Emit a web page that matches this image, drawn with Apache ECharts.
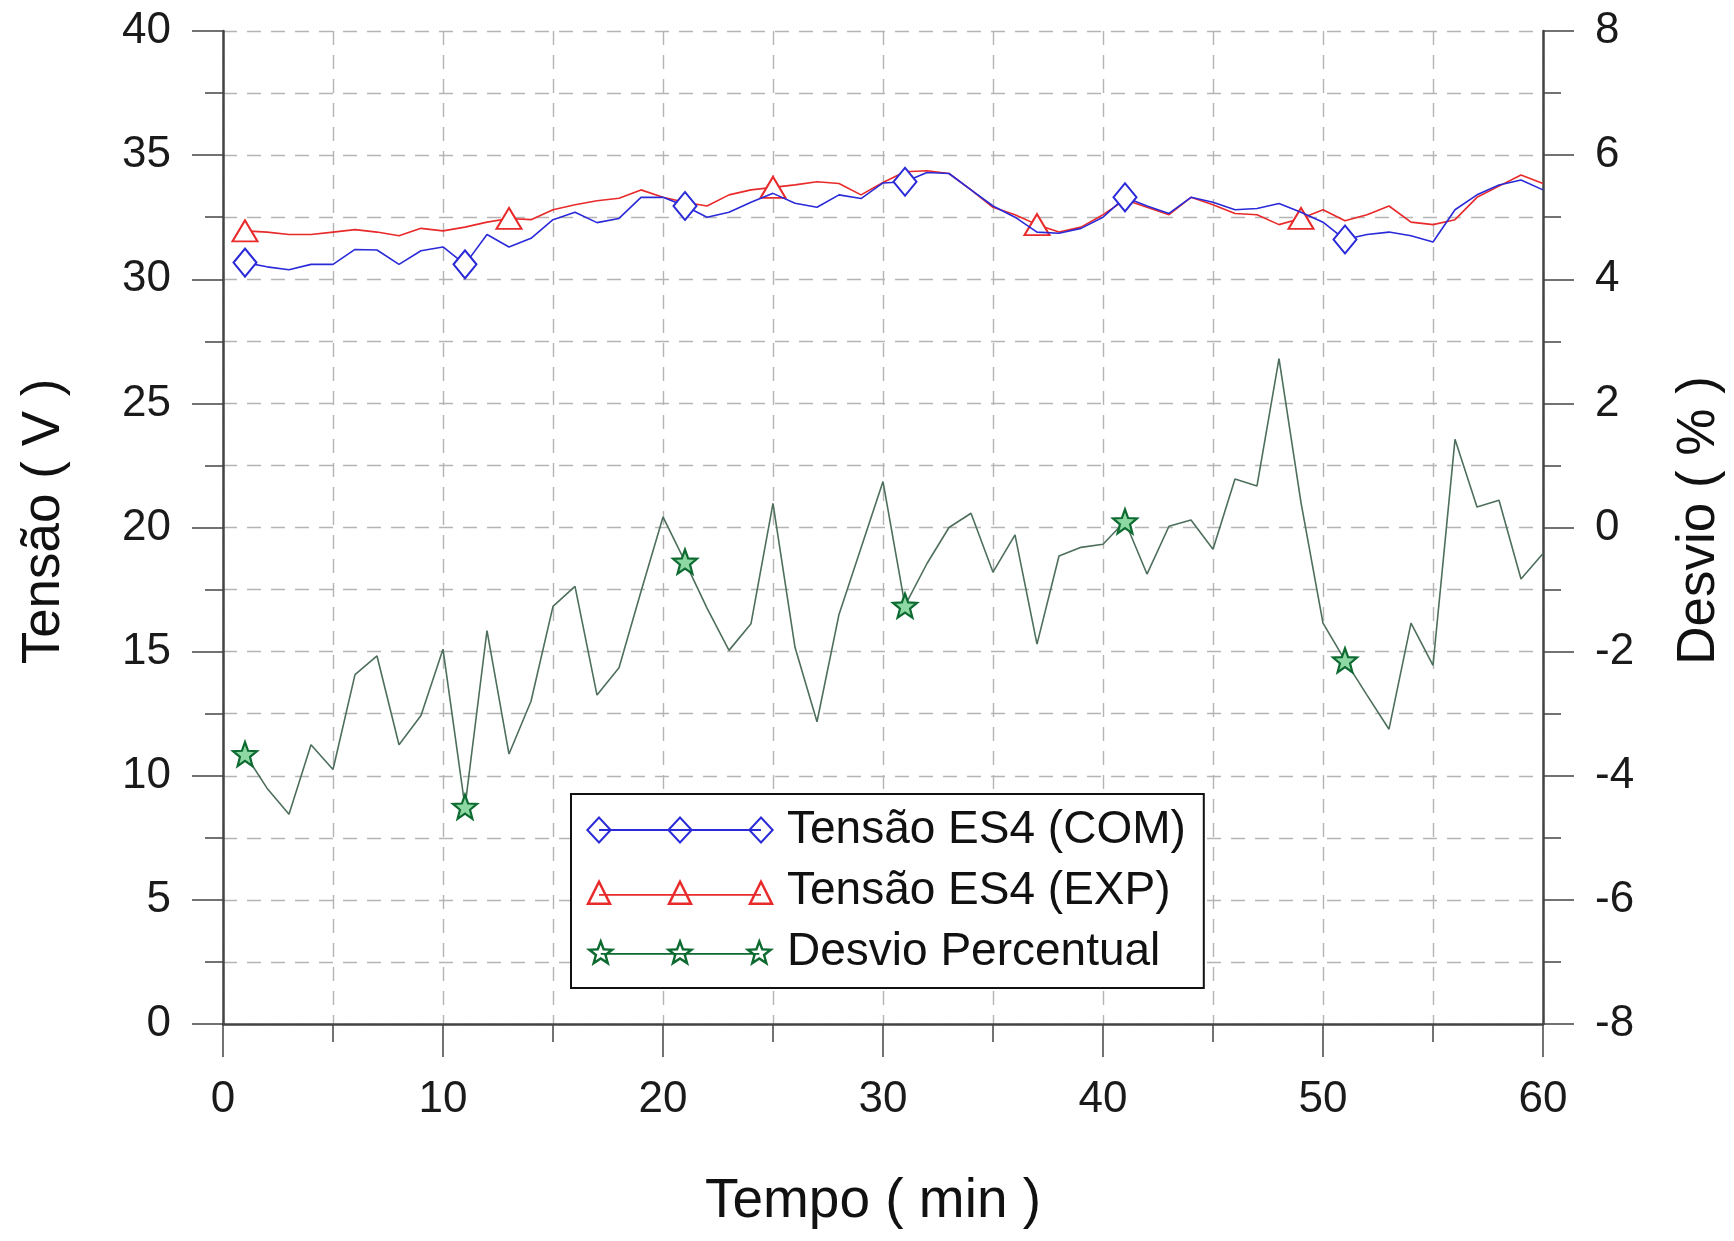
<!DOCTYPE html>
<html>
<head>
<meta charset="utf-8">
<script src="https://cdn.jsdelivr.net/npm/echarts@6/dist/echarts.min.js"></script>
<style>
html,body{margin:0;padding:0;background:#fff;}
#chart{width:1734px;height:1241px;}
</style>
</head>
<body>
<div id="chart"></div>
<script>
// ---- data ----
const minutes = [1,2,3,4,5,6,7,8,9,10,11,12,13,14,15,16,17,18,19,20,
  21,22,23,24,25,26,27,28,29,30,31,32,33,34,35,36,37,38,39,40,
  41,42,43,44,45,46,47,48,49,50,51,52,53,54,55,56,57,58,59,60];
const tensaoCOM = [30.67,30.5,30.38,30.6,30.6,31.2,31.18,30.6,31.15,31.3,
  30.6,31.8,31.3,31.65,32.4,32.7,32.28,32.45,33.3,33.3,
  32.95,32.5,32.7,33.1,33.46,33.06,32.9,33.4,33.25,33.88,
  33.93,34.3,34.26,33.6,32.95,32.5,31.9,31.85,32.05,32.5,
  33.3,32.95,32.65,33.3,33.1,32.8,32.85,33.05,32.7,32.3,
  31.6,31.8,31.9,31.75,31.5,32.8,33.4,33.8,34.0,33.6];
const tensaoEXP = [31.95,31.9,31.8,31.8,31.9,32.0,31.9,31.75,32.05,31.95,
  32.1,32.3,32.45,32.4,32.8,33.0,33.16,33.26,33.6,33.3,
  33.1,32.95,33.4,33.6,33.7,33.8,33.93,33.86,33.4,33.9,
  34.33,34.37,34.26,33.6,32.9,32.6,32.2,31.9,32.1,32.6,
  33.2,32.9,32.6,33.3,33.0,32.65,32.6,32.2,32.45,32.8,
  32.36,32.6,32.95,32.3,32.2,32.4,33.3,33.75,34.2,33.86];
const desvio = [-3.65,-4.2,-4.62,-3.5,-3.9,-2.37,-2.07,-3.5,-3.03,-1.96,
  -4.5,-1.66,-3.65,-2.8,-1.27,-0.95,-2.7,-2.26,-1.03,0.17,
  -0.55,-1.3,-1.98,-1.55,0.39,-1.93,-3.13,-1.4,-0.33,0.74,
  -1.26,-0.58,0.0,0.23,-0.72,-0.12,-1.88,-0.46,-0.32,-0.27,
  0.1,-0.75,0.02,0.12,-0.35,0.78,0.67,2.72,0.4,-1.54,
  -2.14,-2.7,-3.25,-1.54,-2.22,1.42,0.33,0.44,-0.83,-0.42];
const markersCOM = [1,11,21,31,41,51];
const markersEXP = [1,13,25,37,49];
const markersDesvio = [1,11,21,31,41,51];
const seriesNames = ['Tensão ES4 (COM)','Tensão ES4 (EXP)','Desvio Percentual'];
const xTicks = [0,60,10];      // min, max, interval
const yLeftTicks = [0,40,5];
const yRightTicks = [-8,8,2];

// ---- styles ----
const BLUE = '#2a2ad8', RED = '#e82a2a', GREEN_LINE = '#4d6f5c', STAR = '#0d6a30';
const starPath = 'path://M50 0 L62.34 33.01 L97.55 34.55 L69.97 56.49 L79.39 90.45 L50 71 L20.61 90.45 L30.03 56.49 L2.45 34.55 L37.66 33.01 Z';

function build(vals, marks){
  return minutes.map((m,i)=> marks.indexOf(m) >= 0 ? [m, vals[i]] : {value:[m, vals[i]], symbol:'none'});
}

// legend icons (line with three hollow markers), box 188 x 26
function f(n){return (Math.round(n*100)/100).toString();}
function diamondIcon(){
  const cs=[13,94,175]; let p='';
  cs.forEach(c=>{
    p+='M'+f(c)+' 0L'+f(c+13)+' 14L'+f(c)+' 28L'+f(c-13)+' 14Z';
    p+='M'+f(c)+' 3L'+f(c-10.2)+' 14L'+f(c)+' 25L'+f(c+10.2)+' 14Z';
  });
  p+='M13 13.1H175V14.9H13Z';
  return 'path://'+p;
}
function triIcon(){
  const cs=[13,94,175]; let p='';
  cs.forEach(c=>{
    p+='M'+f(c)+' 2L'+f(c+13)+' 28L'+f(c-13)+' 28Z';
    p+='M'+f(c)+' 7.6L'+f(c-8.95)+' 25.4L'+f(c+8.95)+' 25.4Z';
  });
  p+='M13 17H175V18.8H13Z';
  p+='M0 0H0.01V0.01H0Z';
  return 'path://'+p;
}
function starIcon(){
  const R=15.48, cy=15.48, cs=[14.7,94,173.3]; let p='';
  function pts(c,s){
    const out=[];
    for(let k=0;k<10;k++){
      const a=(-90+36*k)*Math.PI/180, r=(k%2===0?R:R*0.42)*s;
      out.push([c+r*Math.cos(a), cy+r*Math.sin(a)]);
    }
    return out;
  }
  cs.forEach(c=>{
    const o=pts(c,1), inn=pts(c,0.55).reverse();
    p+='M'+o.map(q=>f(q[0])+' '+f(q[1])).join('L')+'Z';
    p+='M'+inn.map(q=>f(q[0])+' '+f(q[1])).join('L')+'Z';
  });
  p+='M14.7 15H173.3V16.8H14.7Z';
  return 'path://'+p;
}

const FONT = 'Liberation Sans, Arial, sans-serif';
const dashed = {type:[14,10], color:'#b4b4b4', width:1.4};

const chart = echarts.init(document.getElementById('chart'), null, {renderer:'canvas'});
chart.setOption({
  backgroundColor:'#ffffff',
  animation:false,
  grid:{left:223, right:190.5, top:31, bottom:217, containLabel:false},
  legend:{
    orient:'vertical', left:571, top:794,
    backgroundColor:'#fff', borderColor:'#111', borderWidth:2,
    padding:[13,18,13,15], itemGap:15,
    itemWidth:188, itemHeight:28,
    textStyle:{fontFamily:FONT, fontSize:46, color:'#111', padding:[0,0,0,8]},
    data:[
      {name:seriesNames[0], icon:diamondIcon(), itemStyle:{color:BLUE, borderWidth:0}},
      {name:seriesNames[1], icon:triIcon(), itemStyle:{color:RED, borderWidth:0}},
      {name:seriesNames[2], icon:starIcon(), itemStyle:{color:STAR, borderWidth:0}}
    ]
  },
  xAxis:{
    type:'value', min:xTicks[0], max:xTicks[1], interval:xTicks[2],
    name:'Tempo ( min )', nameLocation:'middle', nameGap:150,
    nameTextStyle:{fontFamily:FONT, fontSize:55, color:'#111', padding:[0,20,0,0]},
    axisLine:{show:true, onZero:false, lineStyle:{color:'#444', width:2.5}},
    axisTick:{show:true, length:33, lineStyle:{color:'#444', width:1.5}},
    minorTick:{show:true, splitNumber:2, length:18, lineStyle:{color:'#444', width:1.5}},
    axisLabel:{margin:54, fontFamily:FONT, fontSize:44, color:'#1a1a1a'},
    splitLine:{show:true, lineStyle:dashed},
    minorSplitLine:{show:true, lineStyle:dashed}
  },
  yAxis:[
    {
      type:'value', position:'left', min:yLeftTicks[0], max:yLeftTicks[1], interval:yLeftTicks[2],
      name:'Tensão ( V )', nameLocation:'middle', nameGap:152, nameRotate:90,
      nameTextStyle:{fontFamily:FONT, fontSize:53, color:'#111', padding:[0,0,0,12]},
      axisLine:{show:true, lineStyle:{color:'#444', width:2.5}},
      axisTick:{show:true, length:31, lineStyle:{color:'#444', width:1.5}},
      minorTick:{show:true, splitNumber:2, length:18, lineStyle:{color:'#444', width:1.5}},
      axisLabel:{margin:52, fontFamily:FONT, fontSize:44, color:'#1a1a1a'},
      splitLine:{show:true, lineStyle:dashed},
      minorSplitLine:{show:true, lineStyle:dashed}
    },
    {
      type:'value', position:'right', min:yRightTicks[0], max:yRightTicks[1], interval:yRightTicks[2],
      name:'Desvio ( % )', nameLocation:'middle', nameGap:130, nameRotate:90,
      nameTextStyle:{fontFamily:FONT, fontSize:53, color:'#111', padding:[0,0,0,14]},
      axisLine:{show:true, lineStyle:{color:'#444', width:2.5}},
      axisTick:{show:true, length:31, lineStyle:{color:'#444', width:1.5}},
      minorTick:{show:true, splitNumber:2, length:18, lineStyle:{color:'#444', width:1.5}},
      axisLabel:{margin:52, fontFamily:FONT, fontSize:44, color:'#1a1a1a'},
      splitLine:{show:false},
      minorSplitLine:{show:false}
    }
  ],
  series:[
    {
      name:seriesNames[0], type:'line', yAxisIndex:0,
      data:build(tensaoCOM, markersCOM),
      symbol:'emptyDiamond', symbolSize:[23,28], showSymbol:true,
      lineStyle:{color:BLUE, width:1.6},
      itemStyle:{color:BLUE, borderColor:BLUE, borderWidth:2},
      z:3
    },
    {
      name:seriesNames[1], type:'line', yAxisIndex:0,
      data:build(tensaoEXP, markersEXP),
      symbol:'emptyTriangle', symbolSize:[25,21], showSymbol:true,
      lineStyle:{color:RED, width:1.6},
      itemStyle:{color:RED, borderColor:RED, borderWidth:2.6},
      z:2
    },
    {
      name:seriesNames[2], type:'line', yAxisIndex:1,
      data:build(desvio, markersDesvio),
      symbol:starPath, symbolSize:24, showSymbol:true,
      lineStyle:{color:GREEN_LINE, width:1.6},
      itemStyle:{color:'#8ed8a4', borderColor:STAR, borderWidth:2.2},
      z:4
    }
  ]
});
</script>
</body>
</html>
